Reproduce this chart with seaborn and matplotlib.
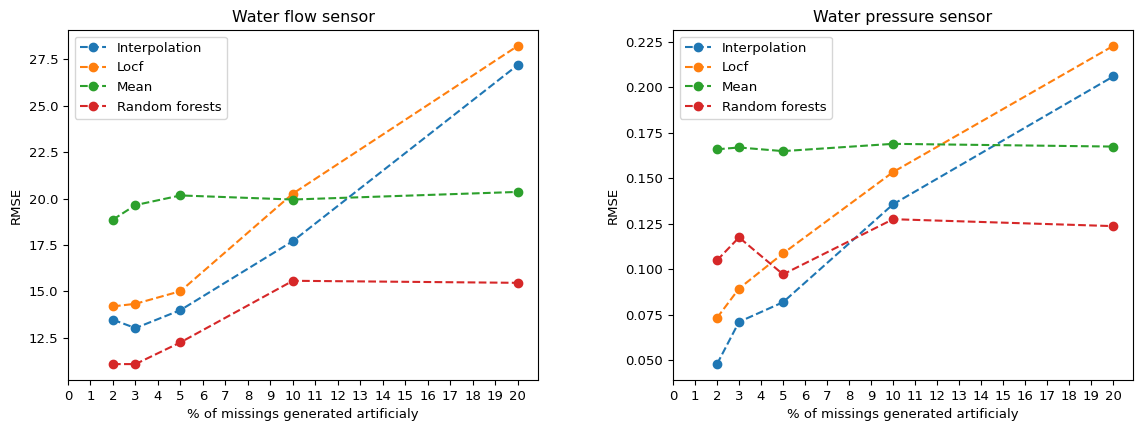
import matplotlib
matplotlib.use("Agg")
import matplotlib.pyplot as plt
import seaborn as sns
import pandas as pd

plt.rcParams["font.size"] = 9.5

pct = [2, 3, 5, 10, 20]
methods = ["Interpolation", "Locf", "Mean", "Random forests"]
colors = ["#1f77b4", "#ff7f0e", "#2ca02c", "#d62728"]

flow_interp = [13.47, 13.02, 13.99, 17.71, 27.20]
flow_locf = [14.19, 14.33, 15.01, 20.27, 28.23]
flow_mean = [18.87, 19.65, 20.17, 19.95, 20.36]
flow_rf = [11.08, 11.08, 12.25, 15.57, 15.46]

press_interp = [0.048, 0.0712, 0.082, 0.1358, 0.206]
press_locf = [0.0734, 0.0895, 0.1088, 0.1535, 0.2228]
press_mean = [0.166, 0.167, 0.165, 0.169, 0.1675]
press_rf = [0.105, 0.1176, 0.0973, 0.1276, 0.1238]

titles = ["Water flow sensor", "Water pressure sensor"]
xlabel = "% of missings generated artificialy"
ylabel = "RMSE"
xticks = list(range(0, 21))

fig = plt.figure(figsize=(11.37, 4.26), dpi=100)
ax1 = fig.add_axes([68/1137, 1-380/426, 470/1137, 350/426])
ax2 = fig.add_axes([673/1137, 1-380/426, 460/1137, 350/426])

for ax, title, series in [
    (ax1, titles[0], [flow_interp, flow_locf, flow_mean, flow_rf]),
    (ax2, titles[1], [press_interp, press_locf, press_mean, press_rf]),
]:
    for name, col, vals in zip(methods, colors, series):
        df = pd.DataFrame({"x": pct, "y": vals})
        sns.lineplot(data=df, x="x", y="y", ax=ax, color=col, marker="o",
                     linestyle="--", markersize=6, markeredgecolor=col,
                     markeredgewidth=1, label=name)
    ax.set_xticks(xticks)
    ax.set_title(title)
    ax.set_xlabel(xlabel)
    ax.set_ylabel(ylabel)
    ax.legend(loc="upper left")

fig.savefig("out.png", dpi=100)
